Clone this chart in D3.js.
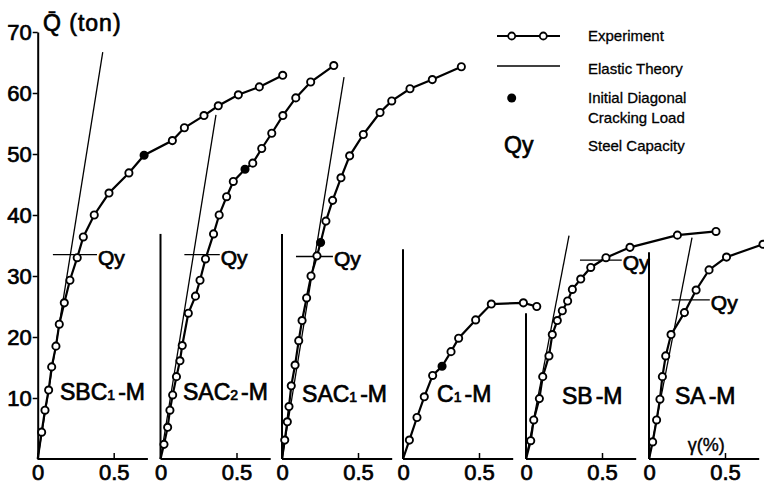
<!DOCTYPE html>
<meta charset="utf-8">
<script src="https://d3js.org/d3.v7.min.js"></script>
<style>
  body { margin: 0; background: #fff; }
  text { font-family: "Liberation Sans", Arial, sans-serif; fill: #000; }
  .heavy { stroke: #000; stroke-width: 0.7px; }
</style>
<div id="my_dataviz"></div>
<script>
  // experiment curves: [gamma (%), Q (ton)]
  var sbc1m = [[0,0],[0.026,4.4],[0.048,8.0],[0.072,11.3],[0.092,15.1],[0.12,18.5],[0.142,22.1],[0.175,25.6],[0.212,29.3],[0.26,33.0],[0.30,36.4],[0.372,40.0],[0.469,43.6],[0.60,46.9],[0.70,49.8],[0.886,52.2],[0.965,54.3],[1.094,56.3],[1.188,57.9],[1.32,59.7],[1.458,61.0],[1.612,62.9]];
  var sac2m = [[0,0],[0.023,2.4],[0.047,5.2],[0.062,8.0],[0.08,10.5],[0.105,13.5],[0.128,16.1],[0.143,18.6],[0.183,23.9],[0.23,26.7],[0.26,29.3],[0.296,32.8],[0.349,36.9],[0.386,40.0],[0.435,43.0],[0.479,45.5],[0.556,47.5],[0.607,48.5],[0.666,50.9],[0.732,53.4],[0.805,56.3],[0.89,59.2],[0.988,61.8],[1.14,64.5]];
  var sac1m = [[0,0],[0.018,3.1],[0.035,6.1],[0.046,8.6],[0.061,12.0],[0.086,15.4],[0.11,19.4],[0.132,22.7],[0.162,26.4],[0.191,30.0],[0.23,33.3],[0.254,35.5],[0.289,39.0],[0.333,42.4],[0.388,46.1],[0.445,49.7],[0.535,53.2],[0.645,56.8],[0.722,58.7],[0.842,60.7],[0.989,62.2],[1.18,64.3]];
  var c1m = [[0,0],[0.042,3.1],[0.092,6.8],[0.14,10.2],[0.195,13.7],[0.257,15.2],[0.316,17.6],[0.366,19.8],[0.478,22.8],[0.581,25.4],[0.792,25.6],[0.88,25.0]];
  var sbm = [[0,0],[0.031,3.0],[0.051,6.4],[0.088,9.9],[0.11,13.5],[0.151,16.9],[0.173,20.4],[0.206,22.7],[0.239,24.3],[0.274,25.9],[0.305,27.8],[0.36,29.5],[0.426,31.4],[0.526,33.0],[0.684,34.7],[0.996,36.7],[1.25,37.3]];
  var sam = [[0,0],[0.024,2.8],[0.05,6.4],[0.072,9.8],[0.088,13.5],[0.11,16.9],[0.145,20.4],[0.233,24.0],[0.31,27.7],[0.395,31.0],[0.51,33.1],[0.75,35.2]];

  var specimens = [["SBC","1","-M"],["SAC","2","-M"],["SAC","1","-M"],["C","1","-M"],["SB","","-M"],["SA","","-M"]];
  var curves = [sbc1m, sac2m, sac1m, c1m, sbm, sam];
  // initial diagonal cracking load (index into curve, -1 = none)
  var crackIndex = [14, 16, 11, 5, -1, -1];
  // elastic theory line end point [gamma, Q]
  var elastic = [[0.428,66.7],[0.365,56.4],[0.408,62.6],null,[0.283,36.6],[0.283,36.3]];
  // steel capacity Qy [Q, gamma from, gamma to]
  var steelQy = [[33.5,0.10,0.39],[33.5,0.157,0.39],[33.2,0.092,0.335],null,[32.6,0.355,0.63],[26.1,0.149,0.40]];
  var yTicks = [10,20,30,40,50,60,70];
  var xTicks = [0, 0.5];

  // layout
  var panelLeft = [37.7, 160.5, 282, 403, 526, 649];
  var axisTop = [70, 36.9, 36.9, 34.4, 23.9, 33.9];
  var labelPos = [[0.147,9.7],[0.148,9.7],[0.132,9.3],[0.224,9.3],[0.237,9.0],[0.171,9.0]];

  var W = 764, H = 493;
  var svg = d3.select("#my_dataviz").append("svg")
    .attr("width", W).attr("height", H);

  var y = d3.scaleLinear().domain([0, 70]).range([459, 32]);
  var line = d3.line();

  specimens.forEach(function(name, i) {
    var x = d3.scaleLinear().domain([0, 0.5]).range([panelLeft[i], panelLeft[i] + 76]);
    var g = svg.append("g");

    // x axis
    var xa = g.append("g")
      .attr("transform", "translate(0," + y(0) + ")")
      .call(d3.axisBottom(x).tickValues(xTicks).tickSizeInner(-6).tickSizeOuter(0).tickPadding(5)
        .tickFormat(function(d) { return d === 0 ? "0" : "0.5"; }));
    xa.select(".domain").attr("d", "M" + x(0) + ",0H" + Math.min(W, x(0.725)))
      .attr("stroke-width", 2.2);
    xa.selectAll("line").attr("stroke-width", 1.5);
    xa.selectAll("text").attr("class", "heavy").style("font-size", "22px");

    // vertical axis
    if (i === 0) {
      var ya = g.append("g")
        .attr("transform", "translate(" + x(0) + ",0)")
        .call(d3.axisLeft(y).tickValues(yTicks).tickSizeInner(5).tickSizeOuter(0).tickPadding(1));
      ya.select(".domain").attr("stroke-width", 2);
      ya.selectAll("line").attr("stroke-width", 1.5);
      ya.selectAll("text").attr("class", "heavy").style("font-size", "22px");
    } else {
      g.append("line")
        .attr("x1", x(0)).attr("x2", x(0))
        .attr("y1", y(0)).attr("y2", y(axisTop[i]))
        .attr("stroke", "#000").attr("stroke-width", 2);
    }

    // elastic theory
    if (elastic[i]) {
      g.append("path")
        .attr("d", line([[x(0), y(0)], [x(elastic[i][0]), y(elastic[i][1])]]))
        .attr("stroke", "#000").attr("stroke-width", 1.3).attr("fill", "none");
    }

    // steel capacity
    if (steelQy[i]) {
      var q = steelQy[i];
      g.append("line")
        .attr("x1", x(q[1])).attr("x2", x(q[2]))
        .attr("y1", y(q[0])).attr("y2", y(q[0]))
        .attr("stroke", "#000").attr("stroke-width", 1.3);
      g.append("text")
        .attr("class", "heavy")
        .attr("x", x(q[2]) + 1).attr("y", y(q[0]) + 10)
        .style("font-size", "21px")
        .text("Qy");
    }

    // experiment
    var data = curves[i];
    g.append("path")
      .attr("d", line(data.map(function(d) { return [x(d[0]), y(d[1])]; })))
      .attr("stroke", "#000").attr("stroke-width", 2.2).attr("fill", "none");
    g.selectAll("circle")
      .data(data.slice(1))
      .enter().append("circle")
        .attr("cx", function(d) { return x(d[0]); })
        .attr("cy", function(d) { return y(d[1]); })
        .attr("r", 3.6)
        .attr("fill", function(d) { return data.indexOf(d) === crackIndex[i] ? "#000" : "#fff"; })
        .attr("stroke", "#000").attr("stroke-width", 1.9);

    // specimen label
    var t = g.append("text")
      .attr("class", "heavy")
      .attr("x", x(labelPos[i][0])).attr("y", y(labelPos[i][1]))
      .style("font-size", "23px");
    t.append("tspan").text(name[0]);
    if (name[1]) t.append("tspan").style("font-size", "14px").text(name[1]);
    t.append("tspan").attr("dx", 3).text(name[2]);

    if (i === 5) {
      g.append("text").attr("class", "heavy").attr("x", x(0.255)).attr("y", y(1.3))
        .style("font-size", "18px").style("stroke-width", "0.4px").text("γ(%)");
    }
  });

  // y title
  svg.append("text").attr("class", "heavy").attr("x", 43).attr("y", 31)
    .style("font-size", "23px").style("letter-spacing", "1px").text("Q\u0304 (ton)");

  // legend
  var lg = svg.append("g");
  lg.append("line").attr("x1", 497).attr("x2", 560).attr("y1", 36).attr("y2", 36)
    .attr("stroke", "#000").attr("stroke-width", 2);
  lg.selectAll("circle.leg").data([511.7, 543.3]).enter().append("circle")
    .attr("cx", function(d) { return d; }).attr("cy", 36).attr("r", 3.5)
    .attr("fill", "#fff").attr("stroke", "#000").attr("stroke-width", 1.8);
  lg.append("line").attr("x1", 497).attr("x2", 560).attr("y1", 66).attr("y2", 66)
    .attr("stroke", "#000").attr("stroke-width", 1.3);
  lg.append("circle").attr("cx", 511.7).attr("cy", 98).attr("r", 4.5).attr("fill", "#000");
  lg.append("text").attr("class", "heavy").attr("x", 504).attr("y", 153).style("font-size", "23px").text("Qy");
  var legendText = [["Experiment", 41], ["Elastic Theory", 74], ["Initial Diagonal", 103], ["Cracking Load", 123], ["Steel Capacity", 151]];
  lg.selectAll("text.lt").data(legendText).enter().append("text")
    .attr("x", 588).attr("y", function(d) { return d[1]; })
    .style("font-size", "15px").style("stroke", "#000").style("stroke-width", "0.3px")
    .text(function(d) { return d[0]; });
</script>
